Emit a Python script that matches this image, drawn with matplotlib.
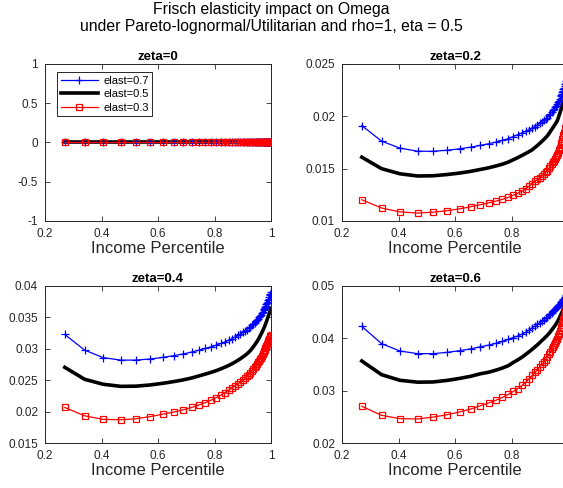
import matplotlib
matplotlib.use("Agg")
import matplotlib.pyplot as plt
from matplotlib.ticker import FixedLocator, FixedFormatter

plt.rcParams['font.family'] = ['Liberation Sans', 'DejaVu Sans']

# ---------------- data ----------------
income_pct = [0.270, 0.340, 0.405, 0.468, 0.522, 0.572, 0.616, 0.655, 0.689, 0.719,
              0.745, 0.768, 0.788, 0.806, 0.822, 0.837, 0.850, 0.862, 0.873, 0.883,
              0.892, 0.900, 0.908, 0.915, 0.921, 0.927, 0.933, 0.938, 0.943, 0.947,
              0.951, 0.955, 0.959, 0.962, 0.965, 0.968, 0.971, 0.974, 0.976, 0.978,
              0.980, 0.982, 0.984, 0.986, 0.988, 0.990, 0.992, 0.994, 0.996, 0.998,
              0.999]

zeta0_all = [0.0, 0.0, 0.0, 0.0, 0.0, 0.0, 0.0, 0.0, 0.0, 0.0,
             0.0, 0.0, 0.0, 0.0, 0.0, 0.0, 0.0, 0.0, 0.0, 0.0,
             0.0, 0.0, 0.0, 0.0, 0.0, 0.0, 0.0, 0.0, 0.0, 0.0,
             0.0, 0.0, 0.0, 0.0, 0.0, 0.0, 0.0, 0.0, 0.0, 0.0,
             0.0, 0.0, 0.0, 0.0, 0.0, 0.0, 0.0, 0.0, 0.0, 0.0,
             0.0]

z02_e07 = [0.01912, 0.01763, 0.01696, 0.01667, 0.01666, 0.01676, 0.01690, 0.01705, 0.01722, 0.01738,
           0.01754, 0.01770, 0.01786, 0.01807, 0.01824, 0.01841, 0.01857, 0.01870, 0.01885, 0.01901,
           0.01917, 0.01932, 0.01948, 0.01962, 0.01975, 0.01988, 0.02008, 0.02025, 0.02043, 0.02058,
           0.02073, 0.02088, 0.02103, 0.02115, 0.02133, 0.02151, 0.02170, 0.02190, 0.02203, 0.02217,
           0.02231, 0.02246, 0.02260, 0.02274, 0.02290, 0.02306, 0.02323, 0.02341, 0.02360, 0.02380,
           0.02392]
z02_e05 = [0.01610, 0.01500, 0.01451, 0.01430, 0.01432, 0.01444, 0.01458, 0.01474, 0.01492, 0.01508,
           0.01526, 0.01543, 0.01562, 0.01585, 0.01605, 0.01626, 0.01645, 0.01662, 0.01680, 0.01702,
           0.01722, 0.01742, 0.01762, 0.01780, 0.01797, 0.01814, 0.01837, 0.01857, 0.01877, 0.01893,
           0.01910, 0.01927, 0.01944, 0.01957, 0.01980, 0.02004, 0.02029, 0.02054, 0.02071, 0.02089,
           0.02107, 0.02126, 0.02144, 0.02163, 0.02186, 0.02210, 0.02235, 0.02260, 0.02287, 0.02315,
           0.02330]
z02_e03 = [0.01203, 0.01124, 0.01087, 0.01076, 0.01084, 0.01098, 0.01116, 0.01136, 0.01155, 0.01173,
           0.01190, 0.01207, 0.01225, 0.01246, 0.01265, 0.01285, 0.01305, 0.01332, 0.01356, 0.01378,
           0.01398, 0.01415, 0.01433, 0.01448, 0.01465, 0.01480, 0.01502, 0.01522, 0.01542, 0.01560,
           0.01578, 0.01597, 0.01616, 0.01630, 0.01652, 0.01675, 0.01699, 0.01725, 0.01743, 0.01762,
           0.01781, 0.01800, 0.01820, 0.01840, 0.01862, 0.01885, 0.01910, 0.01935, 0.01962, 0.01990,
           0.02005]

z04_e07 = [0.03228, 0.02980, 0.02860, 0.02820, 0.02820, 0.02838, 0.02862, 0.02890, 0.02918, 0.02948,
           0.02978, 0.03005, 0.03032, 0.03058, 0.03085, 0.03112, 0.03137, 0.03162, 0.03188, 0.03212,
           0.03236, 0.03260, 0.03284, 0.03306, 0.03328, 0.03350, 0.03374, 0.03396, 0.03418, 0.03438,
           0.03460, 0.03482, 0.03506, 0.03525, 0.03545, 0.03566, 0.03588, 0.03612, 0.03630, 0.03648,
           0.03667, 0.03686, 0.03706, 0.03727, 0.03749, 0.03772, 0.03796, 0.03822, 0.03850, 0.03880,
           0.03900]
z04_e05 = [0.02705, 0.02515, 0.02436, 0.02402, 0.02405, 0.02424, 0.02450, 0.02477, 0.02505, 0.02535,
           0.02568, 0.02598, 0.02625, 0.02652, 0.02680, 0.02708, 0.02735, 0.02762, 0.02790, 0.02817,
           0.02843, 0.02868, 0.02895, 0.02920, 0.02945, 0.02972, 0.03005, 0.03035, 0.03066, 0.03092,
           0.03120, 0.03150, 0.03182, 0.03208, 0.03235, 0.03262, 0.03290, 0.03320, 0.03341, 0.03363,
           0.03386, 0.03410, 0.03435, 0.03460, 0.03486, 0.03512, 0.03540, 0.03568, 0.03596, 0.03625,
           0.03640]
z04_e03 = [0.02066, 0.01933, 0.01877, 0.01870, 0.01886, 0.01920, 0.01958, 0.01992, 0.02028, 0.02066,
           0.02105, 0.02143, 0.02183, 0.02222, 0.02262, 0.02303, 0.02340, 0.02375, 0.02410, 0.02443,
           0.02474, 0.02502, 0.02532, 0.02560, 0.02586, 0.02612, 0.02645, 0.02675, 0.02705, 0.02731,
           0.02758, 0.02785, 0.02813, 0.02835, 0.02860, 0.02887, 0.02915, 0.02945, 0.02966, 0.02987,
           0.03008, 0.03030, 0.03052, 0.03075, 0.03098, 0.03120, 0.03140, 0.03160, 0.03180, 0.03205,
           0.03220]

z06_e07 = [0.04229, 0.03898, 0.03758, 0.03707, 0.03707, 0.03732, 0.03764, 0.03798, 0.03838, 0.03870,
           0.03905, 0.03942, 0.03980, 0.04015, 0.04046, 0.04080, 0.04115, 0.04158, 0.04200, 0.04235,
           0.04268, 0.04298, 0.04328, 0.04355, 0.04380, 0.04408, 0.04438, 0.04465, 0.04492, 0.04515,
           0.04538, 0.04561, 0.04583, 0.04599, 0.04618, 0.04637, 0.04656, 0.04676, 0.04690, 0.04704,
           0.04718, 0.04732, 0.04746, 0.04760, 0.04775, 0.04792, 0.04810, 0.04830, 0.04852, 0.04876,
           0.04890]
z06_e05 = [0.03567, 0.03306, 0.03198, 0.03162, 0.03166, 0.03196, 0.03234, 0.03274, 0.03322, 0.03352,
           0.03392, 0.03433, 0.03476, 0.03538, 0.03588, 0.03640, 0.03692, 0.03742, 0.03790, 0.03835,
           0.03878, 0.03918, 0.03960, 0.03995, 0.04028, 0.04058, 0.04096, 0.04130, 0.04165, 0.04193,
           0.04222, 0.04252, 0.04285, 0.04312, 0.04342, 0.04374, 0.04408, 0.04444, 0.04468, 0.04493,
           0.04518, 0.04544, 0.04571, 0.04599, 0.04628, 0.04658, 0.04690, 0.04723, 0.04758, 0.04795,
           0.04815]
z06_e03 = [0.02701, 0.02529, 0.02465, 0.02460, 0.02495, 0.02540, 0.02592, 0.02648, 0.02710, 0.02765,
           0.02818, 0.02872, 0.02928, 0.02985, 0.03040, 0.03100, 0.03160, 0.03225, 0.03290, 0.03348,
           0.03400, 0.03450, 0.03500, 0.03546, 0.03592, 0.03644, 0.03698, 0.03744, 0.03790, 0.03828,
           0.03868, 0.03910, 0.03955, 0.03995, 0.04040, 0.04088, 0.04138, 0.04190, 0.04226, 0.04263,
           0.04300, 0.04338, 0.04378, 0.04420, 0.04464, 0.04510, 0.04558, 0.04608, 0.04660, 0.04714,
           0.04740]

panel_titles = ["zeta=0", "zeta=0.2", "zeta=0.4", "zeta=0.6"]
series_labels = ["elast=0.7", "elast=0.5", "elast=0.3"]
panel_series = [
    (zeta0_all, zeta0_all, zeta0_all),
    (z02_e07, z02_e05, z02_e03),
    (z04_e07, z04_e05, z04_e03),
    (z06_e07, z06_e05, z06_e03),
]
x_ticks = [0.2, 0.4, 0.6, 0.8, 1.0]
x_ticklabels_left = ["0.2", "0.4", "0.6", "0.8", "1"]
x_ticklabels_right = ["0.2", "0.4", "0.6", "0.8", ""]   # "1" falls outside the picture
y_ticks = [
    [-1, -0.5, 0, 0.5, 1],
    [0.01, 0.015, 0.02, 0.025],
    [0.015, 0.02, 0.025, 0.03, 0.035, 0.04],
    [0.02, 0.03, 0.04, 0.05],
]
y_ticklabels = [
    ["-1", "-0.5", "0", "0.5", "1"],
    ["0.01", "0.015", "0.02", "0.025"],
    ["0.015", "0.02", "0.025", "0.03", "0.035", "0.04"],
    ["0.02", "0.03", "0.04", "0.05"],
]
y_limits = [(-1, 1), (0.01, 0.025), (0.015, 0.04), (0.02, 0.05)]
title_text = "Frisch elasticity impact on Omega\nunder Pareto-lognormal/Utilitarian and rho=1, eta = 0.5"
xlabel_text = "Income Percentile"

# ---------------- figure ----------------
W, H = 563, 488
fig = plt.figure(figsize=(W / 100, H / 100), dpi=100)
axcol = "#262626"

# axes boxes in pixels: (left, top, right, bottom)
boxes = [(45, 64, 271, 221), (342, 64, 568, 221),
         (45, 286, 271, 443), (342, 286, 568, 443)]

for i, (l, t, r, b) in enumerate(boxes):
    ax = fig.add_axes([l / W, 1 - b / H, (r - l) / W, (b - t) / H])
    s07, s05, s03 = panel_series[i]
    ax.plot(income_pct, s07, color=(0, 0, 1), lw=0.9, marker='+', ms=6,
            mew=0.9, label=series_labels[0], zorder=3)
    ax.plot(income_pct, s05, color='black', lw=2.6, label=series_labels[1], zorder=2)
    ax.plot(income_pct, s03, color=(1, 0, 0), lw=0.9, marker='s', ms=4,
            mfc='none', mew=0.9, label=series_labels[2], zorder=4)
    ax.set_xlim(0.2, 1.0)
    ax.set_ylim(*y_limits[i])
    ax.xaxis.set_major_locator(FixedLocator(x_ticks))
    ax.xaxis.set_major_formatter(FixedFormatter(
        x_ticklabels_left if i % 2 == 0 else x_ticklabels_right))
    ax.yaxis.set_major_locator(FixedLocator(y_ticks[i]))
    ax.yaxis.set_major_formatter(FixedFormatter(y_ticklabels[i]))
    ax.tick_params(direction='in', top=True, right=True, length=3.5, width=0.6,
                   colors=axcol, labelsize=8.5, pad=5)
    for sp in ax.spines.values():
        sp.set_color(axcol)
        sp.set_linewidth(0.7)
    ax.set_title(panel_titles[i], fontsize=9.5, fontweight='bold', pad=3, color='black')
    ax.set_xlabel(xlabel_text, fontsize=12, color=axcol, labelpad=1)
    if i == 0:
        leg = ax.legend(loc='upper left', bbox_to_anchor=((57 - l) / (r - l), (b - 72) / (b - t)),
                        borderaxespad=0, fontsize=8, handlelength=3.3,
                        fancybox=False, framealpha=1,
                        edgecolor=axcol, labelspacing=0.3, borderpad=0.35,
                        handletextpad=0.5)
        leg.get_frame().set_linewidth(0.7)

fig.text(271 / W, 1 - 2 / H, title_text, ha='center', va='top', fontsize=11.3,
         color='black', linespacing=1.2)

fig.savefig("out.png", dpi=100)
